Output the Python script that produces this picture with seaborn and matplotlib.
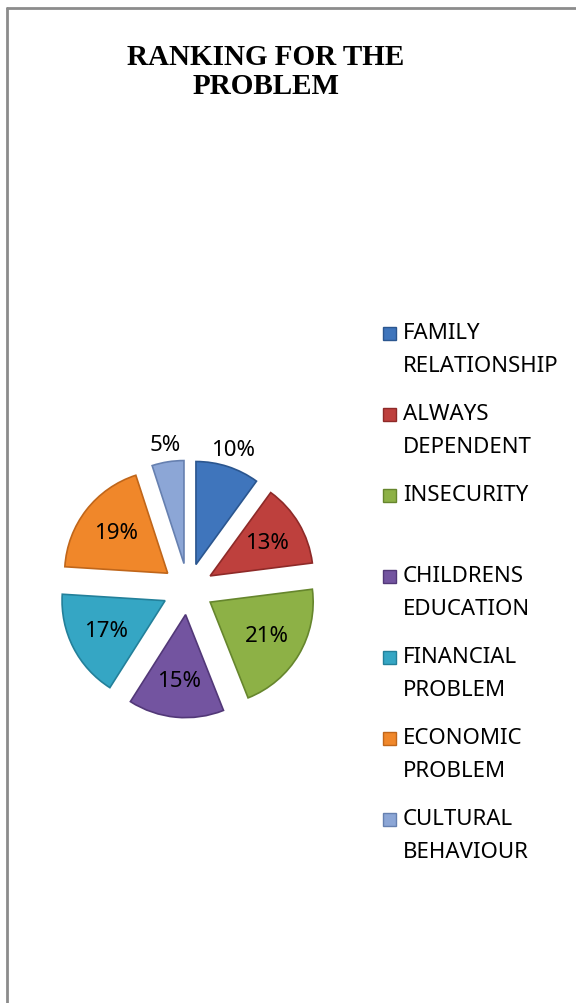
import numpy as np
import matplotlib
matplotlib.use("Agg")
import matplotlib.pyplot as plt
import seaborn as sns
from matplotlib.patches import Rectangle
from matplotlib.lines import Line2D

categories = ["FAMILY\nRELATIONSHIP", "ALWAYS\nDEPENDENT", "INSECURITY",
              "CHILDRENS\nEDUCATION", "FINANCIAL\nPROBLEM", "ECONOMIC\nPROBLEM",
              "CULTURAL\nBEHAVIOUR"]
values = [10, 13, 21, 15, 17, 19, 5]
colors = ["#3F75BC", "#BE403D", "#8DB146", "#7354A0", "#35A6C4", "#F0872A", "#8CA6D6"]
edge_colors = ["#2B568F", "#8E2A28", "#66862D", "#523878", "#23809A", "#C0661A", "#6680B0"]
title_lines = ["RANKING FOR THE", "PROBLEM"]

sns.set_theme(style="white")
plt.rcParams['font.family'] = ['Noto Sans', 'DejaVu Sans']

W, H = 576, 1004
fig = plt.figure(figsize=(W / 100, H / 100), dpi=100)
fig.patch.set_facecolor("white")

# pie axes: center at (188, 590) px, radius 103 px
r_px = 103
cx, cy = 188, 590
half = 1.6 * r_px
ax = fig.add_axes([(cx - half) / W, (H - cy - half) / H, 2 * half / W, 2 * half / H])

pal = sns.color_palette(colors)
explode = [0.25] * len(values)
wedges, texts, autotexts = ax.pie(
    values, colors=pal, explode=explode, startangle=90, counterclock=False,
    radius=1.0, autopct="%.0f%%", pctdistance=0.64,
    wedgeprops=dict(linewidth=1.2), textprops=dict(fontsize=16, color="black"))
ax.set_xlim(-1.6, 1.6)
ax.set_ylim(-1.6, 1.6)
ax.set_aspect("equal")
ax.axis("off")
for w, ec in zip(wedges, edge_colors):
    w.set_edgecolor(ec)

for w, t, v in zip(wedges, autotexts, values):
    if v <= 10:
        ang = np.deg2rad((w.theta1 + w.theta2) / 2)
        t.set_position((1.42 * np.cos(ang), 1.42 * np.sin(ang)))

# title
for j, line in enumerate(title_lines):
    fig.text(266 / W, 1 - (65 + 29 * j) / H, line, ha="center", va="baseline",
             fontsize=21, fontweight="bold", family="Liberation Serif", color="black")

# legend
y0 = 339      # baseline of first line of first entry
step = 81
line_gap = 33
for i, (lab, col, ec) in enumerate(zip(categories, colors, edge_colors)):
    y = y0 + i * step
    fig.add_artist(Rectangle((383 / W, 1 - (y + 2) / H), 13 / W, 13 / H,
                             transform=fig.transFigure, facecolor=col,
                             edgecolor=ec, linewidth=1))
    for j, part in enumerate(lab.split("\n")):
        fig.text(403 / W, 1 - (y + j * line_gap) / H, part, ha="left",
                 va="baseline", fontsize=16, color="black")

# outer frame (left and top edges)
fig.add_artist(Line2D([7 / W, 7 / W], [0, 1 - 9 / H], transform=fig.transFigure,
                      color="#8C8C8C", linewidth=2))
fig.add_artist(Line2D([7 / W, 1], [1 - 9 / H, 1 - 9 / H], transform=fig.transFigure,
                      color="#8C8C8C", linewidth=2))

fig.savefig("out.png", dpi=100)
